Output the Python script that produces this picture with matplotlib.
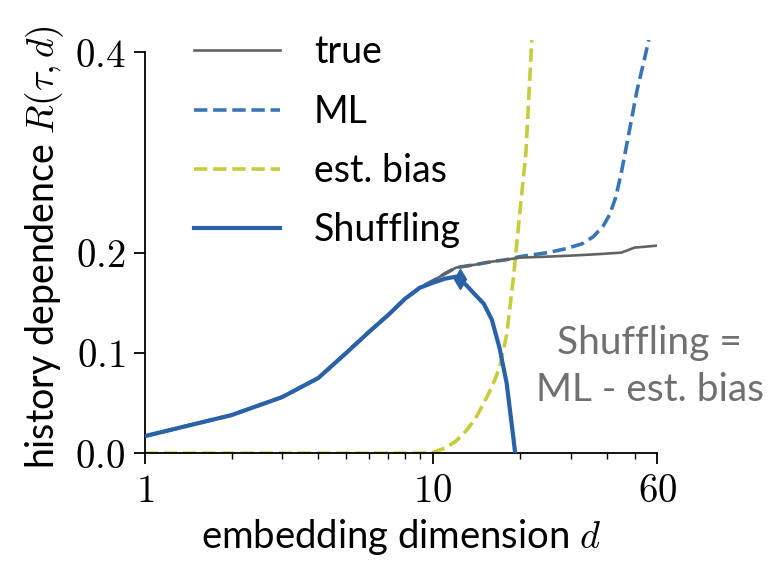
import numpy as np
import matplotlib
matplotlib.use("Agg")
import matplotlib.pyplot as plt
from matplotlib.ticker import FixedLocator, FuncFormatter, NullFormatter, LogLocator

plt.rcParams["font.family"] = ["Lato", "DejaVu Sans"]
plt.rcParams["mathtext.fontset"] = "cm"

# embedding dimensions and history dependence estimates
d_true = [1, 2, 3, 4, 5, 6, 7, 8, 9, 10, 11, 12, 14, 16, 18, 20, 25, 30, 35, 40, 45, 50, 55, 60]
R_true = [0.017, 0.038, 0.056, 0.075, 0.100, 0.121, 0.138, 0.154, 0.165, 0.172, 0.179, 0.185,
          0.188, 0.191, 0.193, 0.195, 0.196, 0.197, 0.198, 0.199, 0.200, 0.205, 0.206, 0.207]

d_ml = [1, 2, 3, 4, 5, 6, 7, 8, 9, 10, 11, 12, 14, 16, 18, 20, 25, 29, 33, 36, 39, 41, 43,
        45, 48, 51, 54, 56]
R_ml = [0.017, 0.038, 0.056, 0.075, 0.100, 0.121, 0.138, 0.154, 0.165, 0.172, 0.179, 0.185,
        0.188, 0.191, 0.193, 0.196, 0.200, 0.204, 0.209, 0.216, 0.227, 0.238, 0.255,
        0.280, 0.322, 0.362, 0.392, 0.412]

d_bias = [1, 2, 3, 4, 5, 6, 7, 8, 9, 10, 11, 12, 13, 14, 15, 16, 17, 18, 19, 20, 21, 22]
R_bias = [0.0, 0.0, 0.0, 0.0, 0.0, 0.0, 0.0, 0.0, 0.0, 0.001, 0.005, 0.012, 0.022, 0.034,
          0.050, 0.066, 0.085, 0.118, 0.175, 0.240, 0.300, 0.412]

d_shuf = [1, 2, 3, 4, 5, 6, 7, 8, 9, 10, 11, 12, 13, 14, 15, 16, 17, 18, 19, 20]
R_shuf = [0.017, 0.038, 0.056, 0.075, 0.100, 0.121, 0.138, 0.154, 0.165, 0.170, 0.174, 0.176,
          0.168, 0.158, 0.149, 0.133, 0.105, 0.070, 0.015, -0.040]

d_opt, R_opt = 12.4, 0.174

c_true = "#636363"
c_ml = "#3a76b6"
c_bias = "#c6cc3c"
c_shuf = "#2a62a8"

fig = plt.figure(figsize=(7.78, 5.63), dpi=100)
ax = fig.add_axes([0.186, 0.195, 0.659, 0.734])

ax.plot(d_true, R_true, color=c_true, lw=1.9, label="true", zorder=3)
ax.plot(d_ml, R_ml, color=c_ml, lw=2.6, ls="--", label="ML", zorder=2)
ax.plot(d_bias, R_bias, color=c_bias, lw=2.6, ls="--", label="est. bias", zorder=2)
ax.plot(d_shuf, R_shuf, color=c_shuf, lw=3.0, label="Shuffling", zorder=4)
ax.plot([d_opt], [R_opt], marker="d", ms=10, color=c_shuf, zorder=5)

ax.set_xscale("log")
ax.set_xlim(1, 60)
ax.set_ylim(0, 0.412)

ax.xaxis.set_major_locator(FixedLocator([1, 10, 60]))
ax.xaxis.set_major_formatter(FuncFormatter(lambda v, p: f"${v:g}$"))
ax.xaxis.set_minor_locator(LogLocator(base=10, subs=np.arange(2, 10)))
ax.xaxis.set_minor_formatter(NullFormatter())
ax.set_yticks([0.0, 0.1, 0.2, 0.4])
ax.yaxis.set_major_formatter(FuncFormatter(lambda v, p: f"${v:.1f}$"))

ax.tick_params(which="major", length=8, width=1.3, labelsize=28, pad=6)
ax.tick_params(which="minor", length=4, width=1.0)

for s in ["top", "right"]:
    ax.spines[s].set_visible(False)
ax.spines["left"].set_bounds(0, 0.4)
for s in ["left", "bottom"]:
    ax.spines[s].set_linewidth(1.3)

ax.set_xlabel(r"embedding dimension $d$", fontsize=27.5, labelpad=6)
ax.set_ylabel(r"history dependence $R(\tau,d)$", fontsize=27, labelpad=6)

ax.legend(loc="upper left", bbox_to_anchor=(0.03, 1.095), frameon=False, fontsize=27,
          handlelength=2.3, handletextpad=0.9, labelspacing=0.62)

ax.text(0.985, 0.21, "Shuffling =\nML - est. bias", transform=ax.transAxes,
        ha="center", va="center", multialignment="center", fontsize=28,
        color="#707070", linespacing=1.4)

fig.savefig("out.png", dpi=100)
